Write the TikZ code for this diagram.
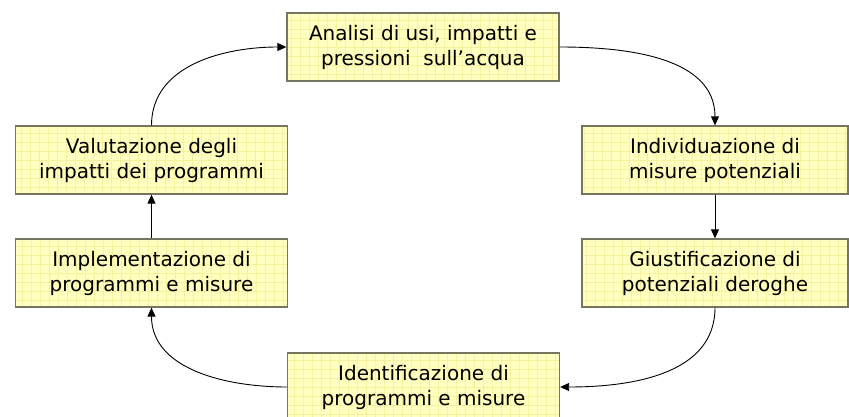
\documentclass[tikz,border=0pt]{standalone}
\usepackage{fontspec}
\setmainfont{DejaVu Sans}
\usetikzlibrary{arrows.meta}
\definecolor{boxfill}{RGB}{255,255,192}
\definecolor{gridcol}{RGB}{246,240,160}
\definecolor{bordercol}{RGB}{118,118,96}
\tikzset{
  stagebox/.style={rectangle, fill=boxfill, draw=bordercol, line width=1.3pt,
    minimum width=272pt, minimum height=68pt, inner sep=0pt, align=center,
    font=\fontsize{20}{25}\selectfont, text=black,
    path picture={\draw[gridcol, line width=0.5pt, step=9pt]
      (path picture bounding box.south west) grid (path picture bounding box.north east);}},
  flow/.style={line width=0.9pt, black, -{Triangle[length=9pt,width=8pt]}}
}
\begin{document}
\begin{tikzpicture}[x=1pt,y=1pt]
\useasboundingbox (0,0) rectangle (849,416);
\clip (0,0) rectangle (849,416);
\node[stagebox] (ana) at (423,369) {Analisi di usi, impatti e\\pressioni\ \ sull’acqua};
\node[stagebox, minimum width=266pt] (ind) at (715,256) {Individuazione di\\misure potenziali};
\node[stagebox, minimum width=266pt] (giu) at (715,143) {Giustificazione di\\potenziali deroghe};
\node[stagebox] (val) at (151.5,256) {Valutazione degli\\impatti dei programmi};
\node[stagebox] (imp) at (151.5,143) {Implementazione di\\programmi e misure};
\node[stagebox] (ide) at (423.5,29) {Identificazione di\\programmi e misure};
\draw[flow] (val.north) to[out=90,in=180] (ana.west);
\draw[flow] (ana.east) to[out=0,in=90] (ind.north);
\draw[flow] (ind.south) -- (giu.north);
\draw[flow] (giu.south) to[out=270,in=0] (ide.east);
\draw[flow] (ide.west) to[out=180,in=270] (imp.south);
\draw[flow] (imp.north) -- (val.south);
\end{tikzpicture}
\end{document}
